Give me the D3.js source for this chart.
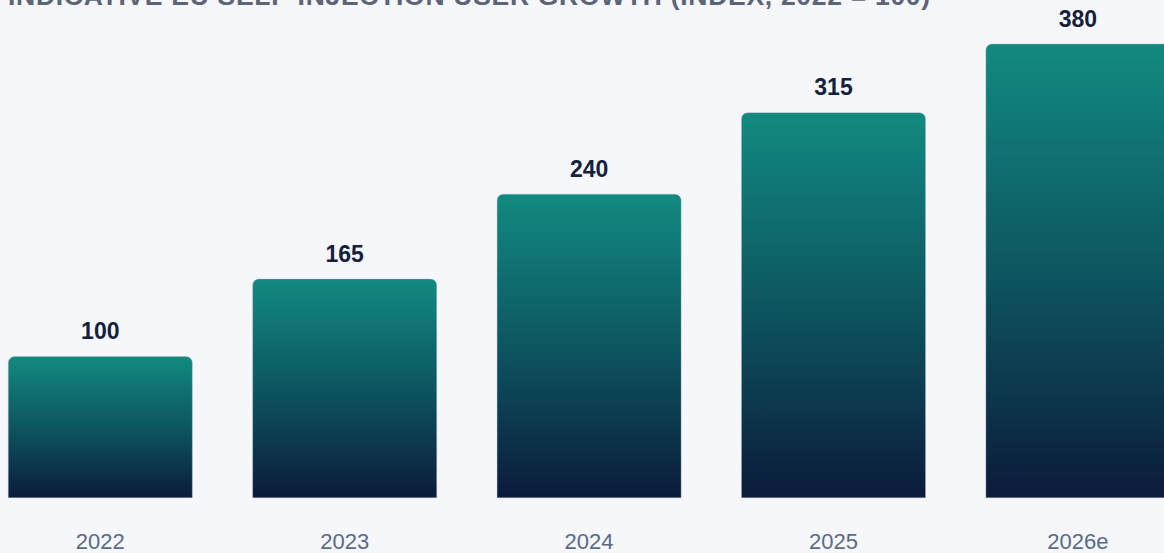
<!DOCTYPE html>
<html>
<head>
<meta charset="utf-8">
<script src="https://cdn.jsdelivr.net/npm/d3@7"></script>
<style>
  html, body { margin: 0; padding: 0; background: #f6f7fb; }
  svg { display: block; }
</style>
</head>
<body>
<svg id="chart" width="1164" height="553"></svg>
<script>
const title = "INDICATIVE EU SELF-INJECTION USER GROWTH (INDEX, 2022 = 100)";
const categories = ["2022", "2023", "2024", "2025", "2026e"];
const values = [100, 165, 240, 315, 380];

const W = 1164, H = 553;
const svg = d3.select("#chart");

svg.append("rect").attr("width", W).attr("height", H).attr("fill", "#f6f7fb");

const defs = svg.append("defs");
const grad = defs.append("linearGradient")
  .attr("id", "barGrad").attr("x1", 0).attr("y1", 0).attr("x2", 0).attr("y2", 1);
grad.append("stop").attr("offset", "0%").attr("stop-color", "#128a80");
grad.append("stop").attr("offset", "50%").attr("stop-color", "#0d5660");
grad.append("stop").attr("offset", "100%").attr("stop-color", "#0b1b3b");

const x = d3.scaleBand()
  .domain(categories)
  .range([-21.9, 1200.1])
  .paddingInner(0.247)
  .paddingOuter(0.1235);

const baseline = 497.7;
const y = d3.scalePow()
  .exponent(0.875)
  .domain([0, 380])
  .range([baseline, 44]);

function topRounded(x0, y0, w, h, r) {
  const p = d3.path();
  p.moveTo(x0, y0 + h);
  p.lineTo(x0, y0 + r);
  p.arcTo(x0, y0, x0 + r, y0, r);
  p.lineTo(x0 + w - r, y0);
  p.arcTo(x0 + w, y0, x0 + w, y0 + r, r);
  p.lineTo(x0 + w, y0 + h);
  p.closePath();
  return p.toString();
}

const data = categories.map((c, i) => ({ c, v: values[i] }));

svg.append("g").selectAll("path")
  .data(data).join("path")
  .attr("d", d => topRounded(x(d.c), y(d.v), x.bandwidth(), baseline - y(d.v), 6))
  .attr("fill", "url(#barGrad)")
  .attr("stroke", "rgba(170,185,205,0.35)")
  .attr("stroke-width", 1);

svg.append("g").selectAll("text")
  .data(data).join("text")
  .attr("x", d => x(d.c) + x.bandwidth() / 2)
  .attr("y", d => y(d.v) - 17.5)
  .attr("text-anchor", "middle")
  .attr("font-family", "'Liberation Sans', Arial, sans-serif")
  .attr("font-weight", 700)
  .attr("font-size", 23)
  .attr("fill", "#14213d")
  .text(d => d.v);

svg.append("g").selectAll("text")
  .data(data).join("text")
  .attr("x", d => x(d.c) + x.bandwidth() / 2)
  .attr("y", 549)
  .attr("text-anchor", "middle")
  .attr("font-family", "'Liberation Sans', Arial, sans-serif")
  .attr("font-size", 22)
  .attr("fill", "#5a6a86")
  .text(d => d.c);

svg.append("text")
  .attr("x", 8)
  .attr("y", 5)
  .attr("font-family", "'Liberation Sans', Arial, sans-serif")
  .attr("font-weight", 700)
  .attr("font-size", 26.5)
  .attr("letter-spacing", "0.7px")
  .attr("fill", "#5c6478")
  .text(title);
</script>
</body>
</html>
